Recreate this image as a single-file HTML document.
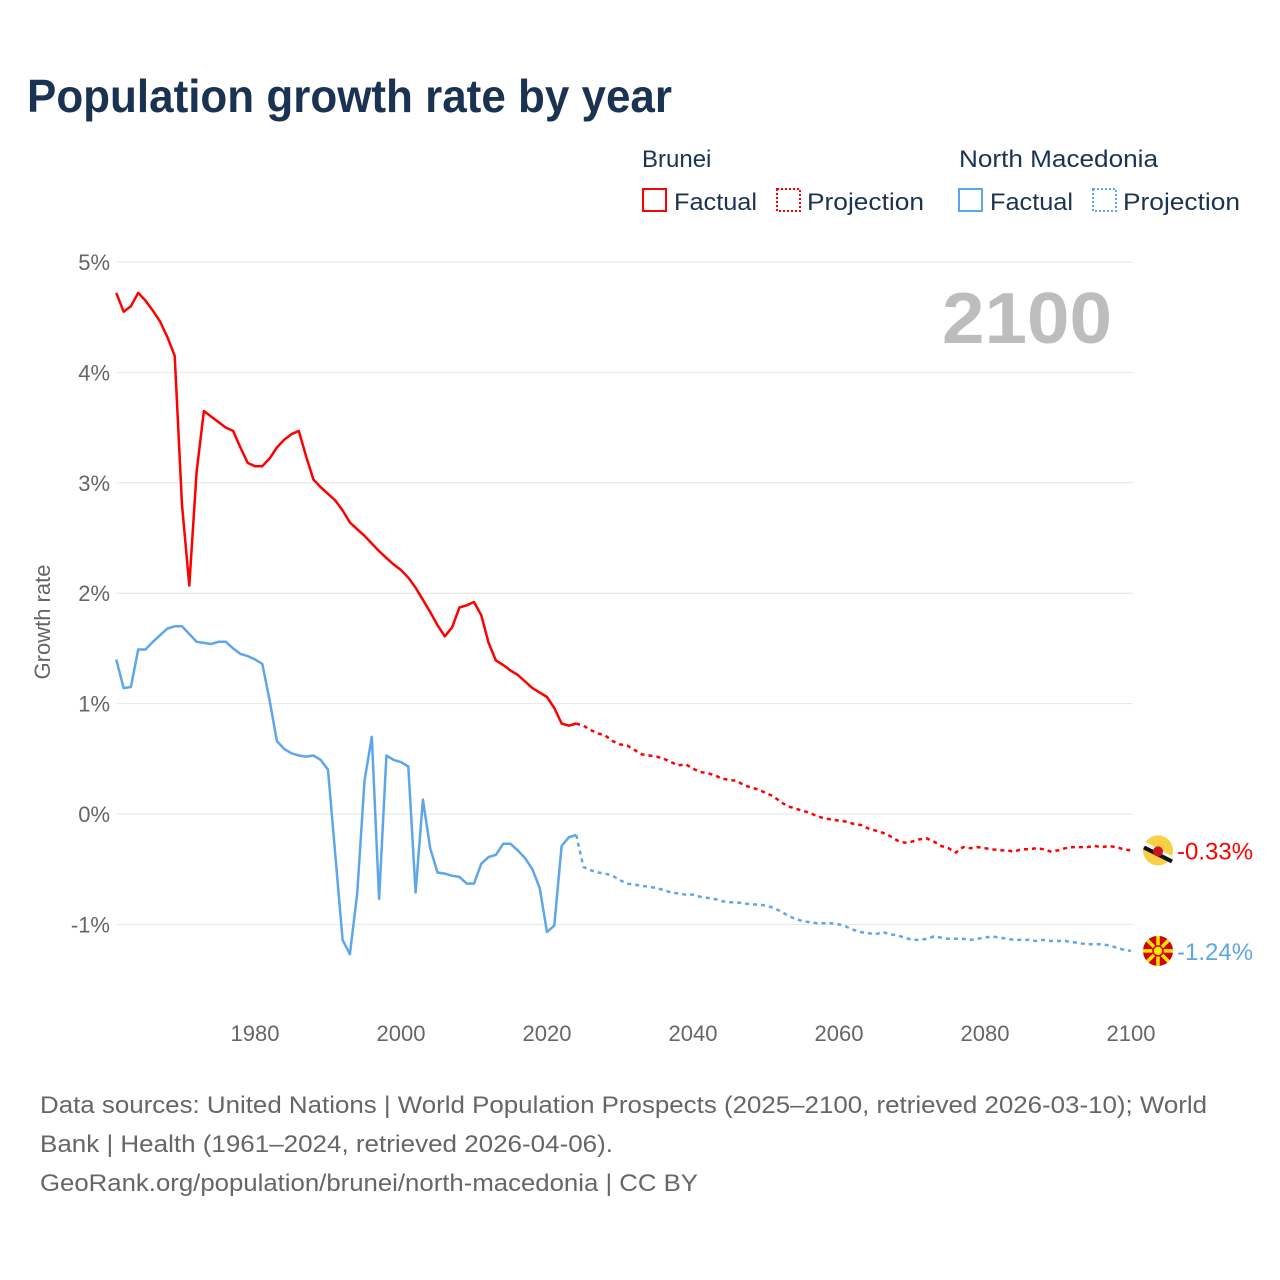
<!DOCTYPE html>
<html><head><meta charset="utf-8">
<style>
body{margin:0;background:#fff;font-family:"Liberation Sans",sans-serif;}
#wrap{position:relative;width:1280px;height:1280px;overflow:hidden;}
</style></head>
<body>
<div id="wrap">
<svg id="chart" width="1280" height="1280" style="position:absolute;left:0;top:0">
<text x="27" y="112" font-size="46" font-weight="bold" fill="#1b3352" textLength="645" lengthAdjust="spacingAndGlyphs">Population growth rate by year</text>
<g font-size="24" fill="#1b3352">
<text x="642" y="167">Brunei</text>
<text x="959" y="167" textLength="199" lengthAdjust="spacingAndGlyphs">North Macedonia</text>
<g><rect x="643" y="189" width="23" height="22" fill="none" stroke="#ff0000" stroke-width="2"/><text x="674" y="210" textLength="83" lengthAdjust="spacingAndGlyphs">Factual</text></g>
<g><rect x="777" y="189" width="23" height="22" fill="none" stroke="#ff0000" stroke-width="2" stroke-dasharray="2,2"/><text x="807" y="210" textLength="117" lengthAdjust="spacingAndGlyphs">Projection</text></g>
<g><rect x="959" y="189" width="23" height="22" fill="none" stroke="#5ea6eb" stroke-width="2"/><text x="990" y="210" textLength="83" lengthAdjust="spacingAndGlyphs">Factual</text></g>
<g><rect x="1093" y="189" width="23" height="22" fill="none" stroke="#5ea6eb" stroke-width="2" stroke-dasharray="2,2"/><text x="1123" y="210" textLength="117" lengthAdjust="spacingAndGlyphs">Projection</text></g>
</g>
<text x="942" y="343" font-size="72" font-weight="bold" fill="#bdbdbd" textLength="170" lengthAdjust="spacingAndGlyphs">2100</text>
<text transform="translate(50,622) rotate(-90)" font-size="22" fill="#666" text-anchor="middle">Growth rate</text>
<g id="grid"></g>
<g id="series"></g>
<g font-size="24" fill="#666">
<text x="40" y="1113" textLength="1167" lengthAdjust="spacingAndGlyphs">Data sources: United Nations | World Population Prospects (2025–2100, retrieved 2026-03-10); World</text>
<text x="40" y="1152" textLength="573" lengthAdjust="spacingAndGlyphs">Bank | Health (1961–2024, retrieved 2026-04-06).</text>
<text x="40" y="1191" textLength="658" lengthAdjust="spacingAndGlyphs">GeoRank.org/population/brunei/north-macedonia | CC BY</text>
</g>
</svg>
</div>
<script>
const yTicks=[5,4,3,2,1,0,-1];
const xTicks=[1980,2000,2020,2040,2060,2080,2100];
const bruneiFactual=[4.72,4.55,4.60,4.72,4.65,4.56,4.46,4.32,4.15,2.80,2.07,3.10,3.65,3.60,3.55,3.50,3.47,3.32,3.18,3.15,3.15,3.22,3.32,3.39,3.44,3.47,3.24,3.03,2.96,2.90,2.84,2.75,2.64,2.58,2.52,2.45,2.38,2.32,2.26,2.21,2.14,2.05,1.94,1.83,1.71,1.61,1.69,1.87,1.89,1.92,1.80,1.55,1.39,1.35,1.30,1.26,1.20,1.14,1.10,1.06,0.96,0.82,0.80,0.82];
const bruneiProjection=[0.82,0.80,0.76,0.73,0.71,0.66,0.63,0.62,0.58,0.54,0.53,0.52,0.50,0.47,0.44,0.45,0.41,0.38,0.37,0.35,0.32,0.31,0.30,0.26,0.24,0.22,0.19,0.16,0.11,0.07,0.05,0.03,0.01,-0.02,-0.04,-0.05,-0.06,-0.07,-0.09,-0.10,-0.13,-0.15,-0.17,-0.20,-0.24,-0.26,-0.25,-0.23,-0.22,-0.25,-0.29,-0.31,-0.35,-0.30,-0.31,-0.30,-0.31,-0.32,-0.33,-0.33,-0.34,-0.32,-0.32,-0.31,-0.32,-0.34,-0.33,-0.31,-0.30,-0.30,-0.30,-0.29,-0.30,-0.29,-0.30,-0.32,-0.33];
const macedoniaFactual=[1.40,1.14,1.15,1.49,1.49,1.56,1.62,1.68,1.70,1.70,1.63,1.56,1.55,1.54,1.56,1.56,1.50,1.45,1.43,1.40,1.36,1.03,0.66,0.59,0.55,0.53,0.52,0.53,0.49,0.40,-0.37,-1.14,-1.27,-0.72,0.30,0.70,-0.77,0.53,0.49,0.47,0.43,-0.71,0.13,-0.31,-0.53,-0.54,-0.56,-0.57,-0.63,-0.63,-0.45,-0.39,-0.37,-0.27,-0.27,-0.33,-0.40,-0.50,-0.67,-1.07,-1.01,-0.29,-0.21,-0.19];
const macedoniaProjection=[-0.19,-0.48,-0.51,-0.53,-0.54,-0.56,-0.60,-0.63,-0.64,-0.65,-0.66,-0.67,-0.69,-0.71,-0.72,-0.73,-0.73,-0.75,-0.76,-0.77,-0.79,-0.80,-0.80,-0.81,-0.82,-0.82,-0.83,-0.85,-0.88,-0.92,-0.95,-0.97,-0.98,-0.99,-0.99,-0.99,-1.00,-1.02,-1.05,-1.07,-1.08,-1.09,-1.07,-1.09,-1.10,-1.12,-1.14,-1.14,-1.13,-1.11,-1.12,-1.13,-1.13,-1.13,-1.14,-1.13,-1.12,-1.11,-1.12,-1.13,-1.14,-1.14,-1.14,-1.15,-1.14,-1.15,-1.15,-1.15,-1.16,-1.17,-1.18,-1.18,-1.18,-1.19,-1.21,-1.23,-1.24];
const factualStart=1961, projStart=2024;

const NS="http://www.w3.org/2000/svg";
const xS=y=>255+(y-1980)*7.3;
const yS=v=>814-v*110.4;
function mk(tag,attrs,parent){const e=document.createElementNS(NS,tag);for(const k in attrs)e.setAttribute(k,attrs[k]);parent.appendChild(e);return e;}
const grid=document.getElementById('grid');
yTicks.forEach(t=>{
  const l=mk('line',{x1:116,x2:1133,y1:yS(t),y2:yS(t),stroke:'#e6e6e6','stroke-width':1},grid);
  
  
  const tx=mk('text',{x:110,y:yS(t)+8,'font-size':22,fill:'#666','text-anchor':'end'},grid);
  tx.textContent=t+'%';
  
  
});
xTicks.forEach(t=>{
  const tx=mk('text',{x:xS(t),y:1041,'font-size':22,fill:'#666','text-anchor':'middle'},grid);
  tx.textContent=t;
  
  
});
const ser=document.getElementById('series');
function line(arr,start,color,dash,name){
  const d=arr.map((v,i)=>(i?'L':'M')+xS(start+i).toFixed(1)+','+yS(v).toFixed(1)).join('');
  const p=mk('path',{d:d,fill:'none',stroke:color,'stroke-width':2.5,'stroke-linejoin':'round'},ser);
  if(dash)p.setAttribute('stroke-dasharray',dash);
  
  
}
line(bruneiFactual,factualStart,'#ff0000',null,'brunei-factual-line');
line(bruneiProjection,projStart,'#ff0000','4,4','brunei-projection-line');
line(macedoniaFactual,factualStart,'#5ea6eb',null,'macedonia-factual-line');
line(macedoniaProjection,projStart,'#5ea6eb','4,4','macedonia-projection-line');

const bEnd=bruneiProjection[bruneiProjection.length-1], mEnd=macedoniaProjection[macedoniaProjection.length-1];
const fx=1158;
const bf=mk('g',{},ser);


const by=yS(bEnd);
mk('circle',{cx:fx,cy:by,r:15,fill:'#f7d046'},bf);
mk('line',{x1:fx-15,y1:by-7,x2:fx+13,y2:by+8,stroke:'#fff','stroke-width':5},bf);
mk('line',{x1:fx-14,y1:by-3,x2:fx+14,y2:by+11,stroke:'#111','stroke-width':4},bf);
mk('circle',{cx:fx,cy:by+1,r:5,fill:'#cf1126'},bf);
const bl=mk('text',{x:1177,y:by+9,'font-size':24,fill:'#ff0000'},ser);
bl.textContent=bEnd.toFixed(2)+'%';


const mf=mk('g',{},ser);


const my=yS(mEnd);
mk('circle',{cx:fx,cy:my,r:15,fill:'#d20000'},mf);
for(let a=0;a<8;a++){const an=a*Math.PI/4;mk('line',{x1:fx,y1:my,x2:fx+15*Math.cos(an),y2:my+15*Math.sin(an),stroke:'#ffe600','stroke-width':3.5},mf);}
mk('circle',{cx:fx,cy:my,r:5,fill:'#ffe600',stroke:'#d20000','stroke-width':1.5},mf);
const ml=mk('text',{x:1177,y:my+9,'font-size':24,fill:'#5ea6eb'},ser);
ml.textContent=mEnd.toFixed(2)+'%';


</script>
</body></html>
